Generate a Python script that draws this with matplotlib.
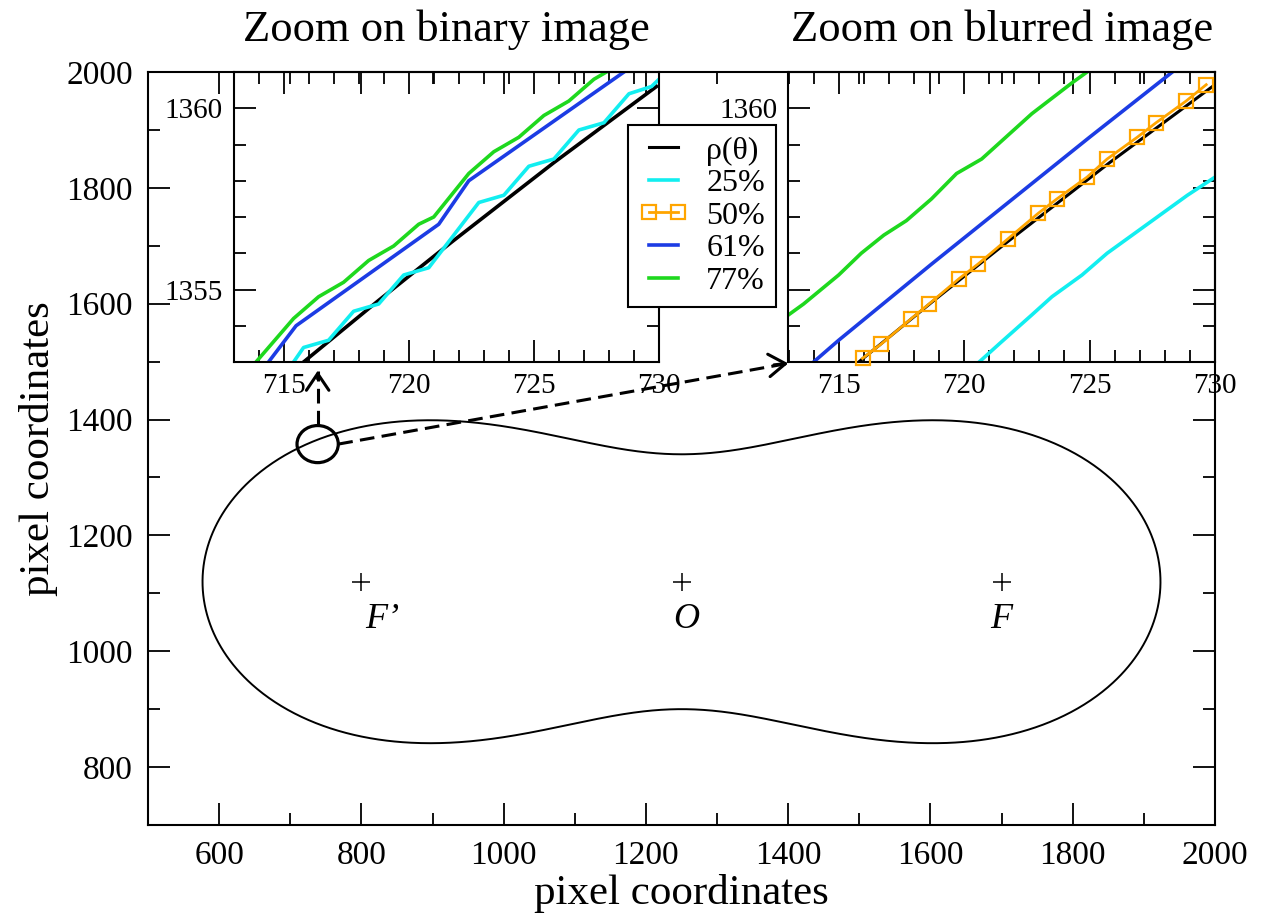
# Cassini oval with zoomed edge detection insets (binary vs blurred image)
import numpy as np
import matplotlib
matplotlib.use('Agg')
import matplotlib.pyplot as plt
from matplotlib.patches import Ellipse
from matplotlib.ticker import MultipleLocator

plt.rcParams['font.family'] = ['Liberation Serif', 'DejaVu Serif']

# --- main panel: oval rho(theta) around O ---
oval_center_x = 1250
oval_center_y = 1120
oval_focal_half = 450        # |OF|
oval_b_squared = 250900      # product of distances to the foci

foci_x = [800, 1250, 1700]
foci_y = [1120, 1120, 1120]
foci_labels = ['F\u2019', 'O', 'F']

# zoomed spot on the contour
spot_x, spot_y = 738.5, 1357.6

# --- inset data (pixel coordinates) ---
rho_x = [715.8, 718.8, 721.7, 725.8, 729.9]
rho_y = [1353.0, 1354.7, 1356.3, 1358.5, 1360.6]

# binary image thresholds
bin25_x = [715.4, 715.8, 716.8, 717.8, 718.8, 719.8, 720.8, 722.8, 723.8,
           724.8, 725.8, 726.8, 727.8, 728.8, 729.7, 730.0]
bin25_y = [1353.0, 1353.4, 1353.6, 1354.4, 1354.6, 1355.4, 1355.6, 1357.4,
           1357.6, 1358.4, 1358.6, 1359.4, 1359.6, 1360.4, 1360.6, 1360.8]
bin61_x = [714.4, 715.5, 721.2, 722.4, 728.6]
bin61_y = [1353.0, 1354.0, 1356.8, 1358.0, 1361.0]
bin77_x = [713.9, 715.4, 716.4, 717.4, 718.4, 719.4, 720.4, 721.0, 722.4,
           723.4, 724.4, 725.4, 726.4, 727.4, 727.9]
bin77_y = [1353.0, 1354.2, 1354.8, 1355.2, 1355.8, 1356.2, 1356.8, 1357.0,
           1358.2, 1358.8, 1359.2, 1359.8, 1360.2, 1360.8, 1361.0]

# blurred image thresholds
blur25_x = [720.6, 721.4, 722.7, 723.5, 724.7, 725.7, 726.7, 727.9, 728.9, 730.0]
blur25_y = [1353.0, 1353.5, 1354.3, 1354.8, 1355.4, 1356.0, 1356.5, 1357.1,
            1357.6, 1358.1]
blur50_x = [715.95, 716.7, 717.9, 718.6, 719.8, 720.55, 721.75, 722.95, 723.7,
            724.9, 725.7, 726.9, 727.65, 728.85, 729.65]
blur50_y = [1353.1, 1353.5, 1354.2, 1354.6, 1355.3, 1355.7, 1356.4, 1357.1,
            1357.5, 1358.1, 1358.6, 1359.2, 1359.6, 1360.2, 1360.65]
blur61_x = [714.0, 715.0, 718.7, 721.4, 725.0, 728.3]
blur61_y = [1353.0, 1353.6, 1355.7, 1357.2, 1359.2, 1361.0]
blur77_x = [713.0, 713.6, 715.0, 715.9, 716.8, 717.7, 718.7, 719.7, 720.7,
            721.5, 722.7, 724.3, 724.9]
blur77_y = [1354.3, 1354.6, 1355.4, 1356.0, 1356.5, 1356.9, 1357.5, 1358.2,
            1358.6, 1359.1, 1359.85, 1360.7, 1361.0]

# colours
C_CYAN = '#12eef0'
C_ORANGE = '#ffa500'
C_BLUE = '#1c3ce4'
C_GREEN = '#1ed81e'


def style_axes(a, labelsize, pad):
    a.tick_params(which='both', direction='in', top=True, right=True,
                  width=1.3, labelsize=labelsize, pad=pad)
    a.tick_params(which='major', length=16)
    a.tick_params(which='minor', length=8.5)
    for s in a.spines.values():
        s.set_linewidth(1.5)


fig = plt.figure(figsize=(12.65, 9.15), dpi=100)

# main axes
ax = fig.add_axes([148 / 1265, 1 - 825 / 915, 1067 / 1265, 753 / 915])
theta = np.linspace(np.pi / 2, np.pi / 2 + 2 * np.pi, 2001)
a2 = oval_focal_half ** 2
rho = np.sqrt(a2 * np.cos(2 * theta) +
              np.sqrt(oval_b_squared ** 2 - a2 ** 2 * np.sin(2 * theta) ** 2))
ax.plot(oval_center_x + rho * np.cos(theta), oval_center_y + rho * np.sin(theta),
        color='black', lw=1.4, solid_capstyle='butt', solid_joinstyle='round')
ax.plot(foci_x, foci_y, '+', color='black', ms=13.5, mew=1.1)
label_dx = [30, 6, 0]
for x, y, lab, dx in zip(foci_x, foci_y, foci_labels, label_dx):
    ax.text(x + dx, y - 66, lab, style='italic', fontsize=26,
            ha='center', va='center')

ax.add_patch(Ellipse((spot_x, spot_y), 58, 64, fill=False, lw=2.3,
                     color='black'))

# dashed arrows from the spot to the insets
dash = (0, (4.8, 2.4))
ax.plot([spot_x, spot_x], [spot_y + 33, 1484], color='black', lw=2.2, ls=dash)
ax.annotate('', xy=(spot_x, 1484), xytext=(spot_x, 1470),
            arrowprops=dict(arrowstyle='->,head_length=0.4,head_width=0.27',
                            lw=2.2, color='black', mutation_scale=30,
                            shrinkA=0, shrinkB=0))
ax.plot([spot_x + 29, 1400], [spot_y, 1497], color='black', lw=2.2, ls=dash)
ax.annotate('', xy=(1400, 1497), xytext=(1380, 1494.4),
            arrowprops=dict(arrowstyle='->,head_length=0.4,head_width=0.27',
                            lw=2.2, color='black', mutation_scale=30,
                            shrinkA=0, shrinkB=0))

ax.set_xlim(500, 2000)
ax.set_ylim(700, 2000)
ax.xaxis.set_major_locator(MultipleLocator(200))
ax.xaxis.set_minor_locator(MultipleLocator(100))
ax.yaxis.set_major_locator(MultipleLocator(200))
ax.yaxis.set_minor_locator(MultipleLocator(100))
style_axes(ax, 24, 11)
ax.set_xlabel('pixel coordinates', fontsize=31, labelpad=2)
ax.set_ylabel('pixel coordinates', fontsize=31, labelpad=6)

# insets
inset_pos = [[233.5 / 1265, 1 - 362 / 915, 425.5 / 1265, 290 / 915],
             [788.5 / 1265, 1 - 362 / 915, 426.5 / 1265, 290 / 915]]
ax_bin = fig.add_axes(inset_pos[0], facecolor='none')
ax_blur = fig.add_axes(inset_pos[1], facecolor='none')

ax_bin.plot(rho_x, rho_y, color='black', lw=2.6)
ax_bin.plot(bin25_x, bin25_y, color=C_CYAN, lw=2.6)
ax_bin.plot(bin61_x, bin61_y, color=C_BLUE, lw=2.6)
ax_bin.plot(bin77_x, bin77_y, color=C_GREEN, lw=2.6)

l_rho, = ax_blur.plot(rho_x, rho_y, color='black', lw=2.2, label='\u03c1(\u03b8)')
l25, = ax_blur.plot(blur25_x, blur25_y, color=C_CYAN, lw=2.6, label='25%')
l50, = ax_blur.plot(blur50_x, blur50_y, color=C_ORANGE, lw=2.0, marker='s',
                    ms=9.5, mfc='none', mec=C_ORANGE, mew=1.6, label='50%',
                    clip_on=False, zorder=3)
l61, = ax_blur.plot(blur61_x, blur61_y, color=C_BLUE, lw=2.6, label='61%')
l77, = ax_blur.plot(blur77_x, blur77_y, color=C_GREEN, lw=2.6, label='77%')

for a, title in [(ax_bin, 'Zoom on binary image'), (ax_blur, 'Zoom on blurred image')]:
    a.set_xlim(713, 730)
    a.set_ylim(1353, 1361)
    a.xaxis.set_major_locator(MultipleLocator(5))
    a.xaxis.set_minor_locator(MultipleLocator(1))
    a.yaxis.set_major_locator(MultipleLocator(5))
    a.yaxis.set_minor_locator(MultipleLocator(1))
    style_axes(a, 21, 8)
    a.set_title(title, fontsize=32, pad=22)

# the legend covers the 1355 label of the blurred inset
ax_blur.set_yticks([1355, 1360], ['', '1360'])

leg = fig.legend(handles=[l_rho, l25, l50, l61, l77], loc='upper left',
                 bbox_to_anchor=(628 / 1265, 1 - 125 / 915), borderaxespad=0,
                 fontsize=23, frameon=True, fancybox=False, framealpha=1,
                 edgecolor='black', handlelength=1.5, handletextpad=0.6,
                 labelspacing=0.1, borderpad=0.35, numpoints=2)
leg.get_frame().set_linewidth(1.5)

fig.savefig('out.png', dpi=100)
